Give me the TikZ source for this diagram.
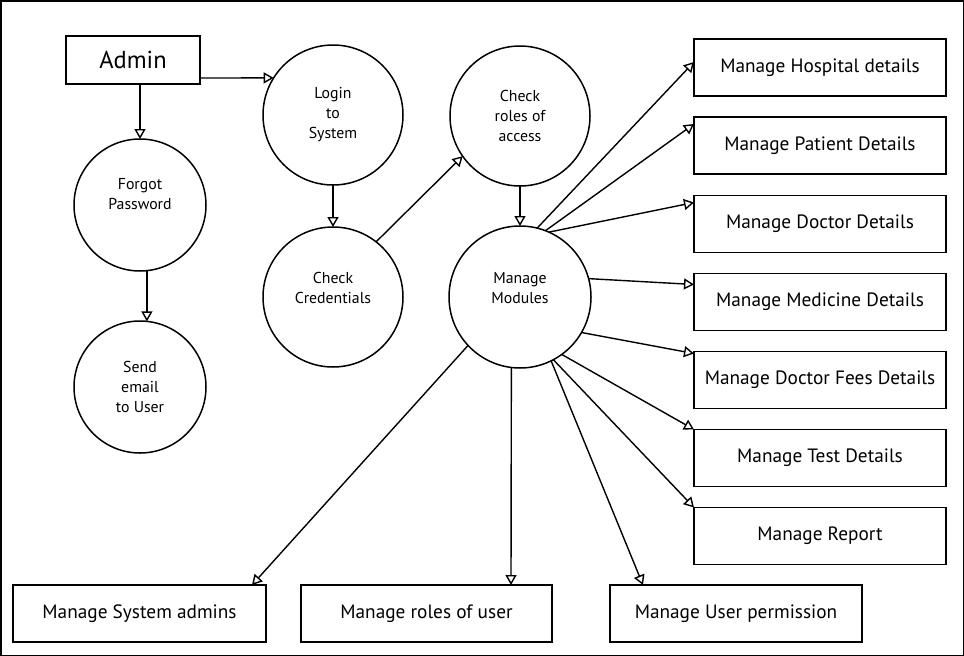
\documentclass[tikz,border=0pt]{standalone}
\usepackage{fontspec}
\setmainfont{PT Sans}
\usetikzlibrary{arrows.meta}
\begin{document}
\begin{tikzpicture}[x=1pt,y=-1pt,
  every node/.style={outer sep=0pt},
  circ/.style={draw,circle,line width=1.5pt,inner sep=0pt,minimum size=140pt,align=center,font=\fontsize{15.8}{20}\selectfont},
  sbox/.style={draw,rectangle,line width=1.5pt,inner sep=0pt,minimum width=252pt,minimum height=57pt,font=\fontsize{19.3}{22}\selectfont},
  conn/.style={line width=1.4pt,-{Triangle[open,length=10pt,width=11pt]}}]
\useasboundingbox (0,0) rectangle (964,656);
\draw[line width=1.5pt] (0.75,0.75) rectangle (963.25,655.25);

\node[draw,line width=1.5pt,minimum width=134pt,minimum height=48pt,inner sep=0pt,font=\fontsize{24.5}{28}\selectfont] (admin) at (133,60) {Admin};

\node[circ] (login) at (333,115) {Login\\to\\System};
\node[circ] (roles) at (520,116) {Check\\roles of\\access};
\node[circ,minimum size=132pt] (forgot) at (140,205) {};
\node[font=\fontsize{15.8}{20}\selectfont,align=center] at (140,194) {Forgot\\Password};
\node[circ,minimum size=132pt] (send) at (140,387) {Send\\email\\to User};
\node[circ] (cred) at (333,297) {};
\node[font=\fontsize{15.8}{20}\selectfont,align=center] at (333,288) {Check\\Credentials};
\node[circ,minimum size=142pt] (mm) at (520,297) {};
\node[font=\fontsize{15.8}{20}\selectfont,align=center] at (520,288) {Manage\\Modules};

\node[sbox] (hosp) at (820,67.5) {Manage Hospital details};
\node[sbox] (pat) at (820,145.5) {Manage Patient Details};
\node[sbox] (doc) at (820,224) {Manage Doctor Details};
\node[sbox] (med) at (820,302) {Manage Medicine Details};
\node[sbox] (fees) at (820,380) {Manage Doctor Fees Details};
\node[sbox] (test) at (820,458) {Manage Test Details};
\node[sbox] (rep) at (820,536) {Manage Report};

\node[sbox,minimum width=253pt] (sysad) at (139.5,613.5) {Manage System admins};
\node[sbox,minimum width=251pt] (rou) at (426.5,613.5) {Manage roles of user};
\node[sbox] (perm) at (736,613.5) {Manage User permission};

\draw[conn] ([yshift=-18pt]admin.east) -- (login.148);
\draw[conn] ([xshift=7pt]admin.south) -- (forgot.north);
\draw[conn] (forgot.-84) -- (send.84);
\draw[conn] (login.south) -- (cred.north);
\draw[conn] (cred.52) -- (roles.-145);
\draw[conn] (roles.south) -- (mm.north);

\draw[conn] (mm.76.6) -- ([yshift=5.5pt]hosp.west);
\draw[conn] (mm.69) -- ([yshift=-7pt]pat.north west);
\draw[conn] (mm.66) -- ([yshift=-7pt]doc.north west);
\draw[conn] (mm.15) -- ([yshift=-11pt]med.north west);
\draw[conn] (mm.-30) -- ([yshift=-2pt]fees.north west);
\draw[conn] (mm.-54) -- (test.north west);
\draw[conn] (mm.-62) -- (rep.north west);

\draw[conn] (mm.-137) -- ([xshift=-14pt]sysad.north east);
\draw[conn] (mm.-97) -- ([xshift=84.5pt]rou.north);
\draw[conn] (mm.-64) -- ([xshift=33pt]perm.north west);
\end{tikzpicture}
\end{document}
